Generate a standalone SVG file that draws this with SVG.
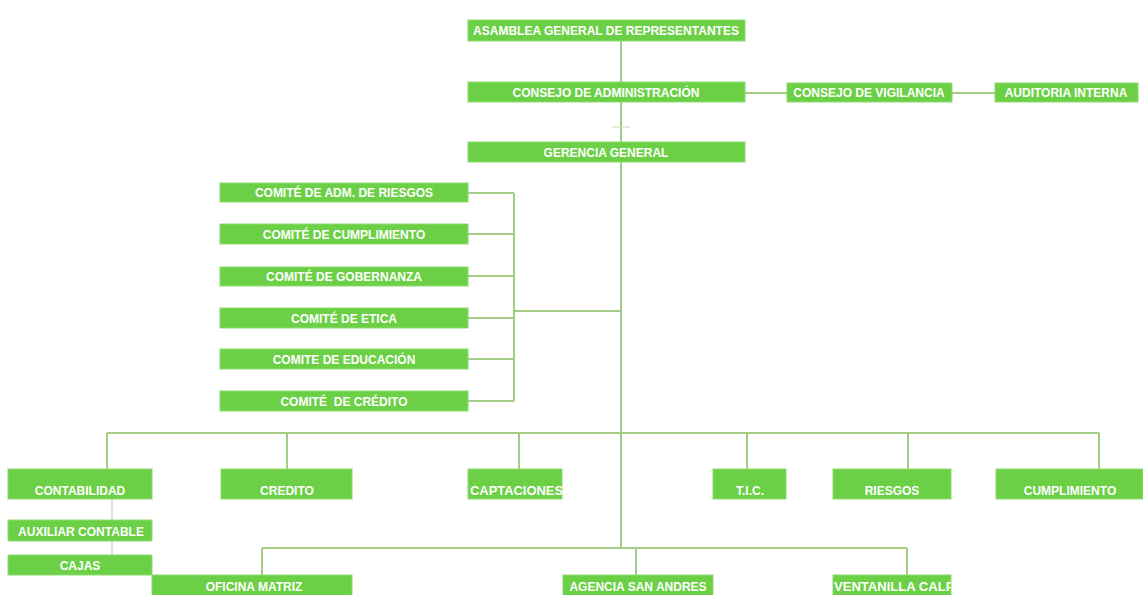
<svg xmlns="http://www.w3.org/2000/svg" width="1143" height="595" viewBox="0 0 1143 595">
<style>
.box{fill:#6bd045;stroke:#8fdc6f;stroke-width:1}
.t{font-family:"Liberation Sans",Arial,sans-serif;font-weight:bold;font-size:12px;fill:#ffffff;text-anchor:middle}
.tl{text-anchor:start}
.ln{stroke:#a3cd85;stroke-width:2;fill:none}
.lt{stroke:#c9e2b6;stroke-width:1.5;fill:none}
</style>
<defs>
<clipPath id="cv"><rect x="833" y="575" width="118" height="20"/></clipPath>
</defs>
<rect width="1143" height="595" fill="#ffffff"/>
<g id="connectors">
<path class="ln" d="M621 41V548"/>
<path class="ln" d="M745 93H787M952 93H995"/>
<path class="lt" d="M612 127H630" stroke-width="3" opacity="0.8"/>
<path class="ln" d="M468 193H514M468 234H514M468 276H514M468 318H514M468 359H514M468 401H514M514 193V401M514 311H621"/>
<path class="ln" d="M107 433H1099M107 433V469M287 433V469M519 433V469M747 433V469M908 433V469M1099 433V469"/>
<path class="ln" d="M262 548H907M262 548V575M636 548V575M907 548V575"/>
<path class="lt" d="M112 499V520M112 541V555"/>
</g>
<g id="asamblea"><rect class="box" x="468" y="20" width="277" height="21"/><text class="t" x="606" y="35">ASAMBLEA GENERAL DE REPRESENTANTES</text></g>
<g id="consejo-admin"><rect class="box" x="468" y="82" width="277" height="20"/><text class="t" x="606" y="97">CONSEJO DE ADMINISTRACIÓN</text></g>
<g id="consejo-vigilancia"><rect class="box" x="787" y="83" width="165" height="19"/><text class="t" x="869" y="97">CONSEJO DE VIGILANCIA</text></g>
<g id="auditoria"><rect class="box" x="995" y="83" width="143" height="19"/><text class="t" x="1066" y="97">AUDITORIA INTERNA</text></g>
<g id="gerencia"><rect class="box" x="468" y="142" width="277" height="20"/><text class="t" x="606" y="157">GERENCIA GENERAL</text></g>
<g id="comite-riesgos"><rect class="box" x="220" y="183" width="248" height="19"/><text class="t" x="344" y="197">COMITÉ DE ADM. DE RIESGOS</text></g>
<g id="comite-cumplimiento"><rect class="box" x="220" y="224" width="248" height="20"/><text class="t" x="344" y="239">COMITÉ DE CUMPLIMIENTO</text></g>
<g id="comite-gobernanza"><rect class="box" x="220" y="267" width="248" height="19"/><text class="t" x="344" y="281">COMITÉ DE GOBERNANZA</text></g>
<g id="comite-etica"><rect class="box" x="220" y="308" width="248" height="20"/><text class="t" x="344" y="323">COMITÉ DE ETICA</text></g>
<g id="comite-educacion"><rect class="box" x="220" y="349" width="248" height="20"/><text class="t" x="344" y="364">COMITE DE EDUCACIÓN</text></g>
<g id="comite-credito"><rect class="box" x="220" y="391" width="248" height="20"/><text class="t" x="344" y="406" xml:space="preserve">COMITÉ  DE CRÉDITO</text></g>
<g id="contabilidad"><rect class="box" x="8" y="469" width="144" height="30"/><text class="t" x="80" y="495">CONTABILIDAD</text></g>
<g id="auxiliar"><rect class="box" x="8" y="520" width="144" height="21"/><text class="t" x="81" y="536">AUXILIAR CONTABLE</text></g>
<g id="cajas"><rect class="box" x="8" y="555" width="144" height="20"/><text class="t" x="80" y="570">CAJAS</text></g>
<g id="credito"><rect class="box" x="221" y="469" width="131" height="30"/><text class="t" x="287" y="495">CREDITO</text></g>
<g id="captaciones"><rect class="box" x="468" y="469" width="94" height="30"/><text class="t tl" x="470" y="495" textLength="93" lengthAdjust="spacingAndGlyphs">CAPTACIONES</text></g>
<g id="tic"><rect class="box" x="713" y="469" width="73" height="30"/><text class="t" x="750" y="495">T.I.C.</text></g>
<g id="riesgos"><rect class="box" x="833" y="469" width="118" height="30"/><text class="t" x="892" y="495">RIESGOS</text></g>
<g id="cumplimiento"><rect class="box" x="996" y="469" width="147" height="30"/><text class="t" x="1070" y="495">CUMPLIMIENTO</text></g>
<g id="oficina-matriz"><rect class="box" x="152" y="575" width="200" height="25"/><text class="t" x="254" y="591">OFICINA MATRIZ</text></g>
<g id="agencia-san-andres"><rect class="box" x="563" y="575" width="150" height="25"/><text class="t" x="638" y="591">AGENCIA SAN ANDRES</text></g>
<g id="ventanilla"><rect class="box" x="833" y="575" width="118" height="25"/><text class="t tl" x="834" y="591" textLength="124" lengthAdjust="spacingAndGlyphs" clip-path="url(#cv)">VENTANILLA CALPI</text></g>
</svg>
